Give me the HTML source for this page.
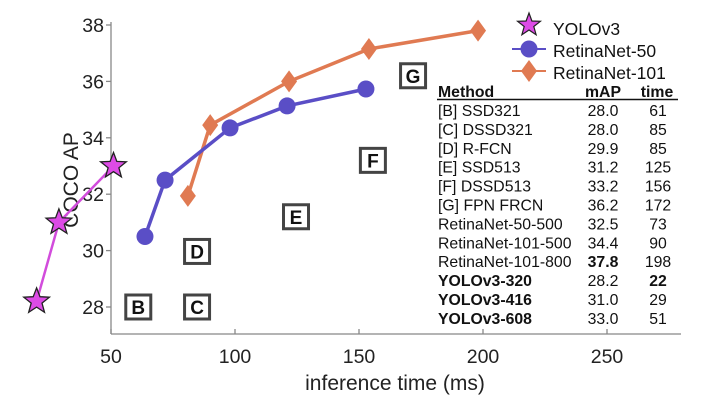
<!DOCTYPE html>
<html><head><meta charset="utf-8"><style>
body{margin:0;background:#fff;width:720px;height:405px;overflow:hidden}
svg{font-family:"Liberation Sans",sans-serif}
</style></head><body>
<svg id="c" width="720" height="405"></svg>
<script>
const xTicks=[50,100,150,200,250];
const yTicks=[28,30,32,34,36,38];
const yoloT=[20,29,51];
const yoloAP=[28.2,31.0,33.0];
const r50T=[63.7,71.8,98,121,152.8];
const r50AP=[30.5,32.5,34.35,35.13,35.73];
const r101T=[81,90,121.8,154,198];
const r101AP=[31.94,34.45,36.0,37.15,37.8];
const boxLabels=["B","C","D","E","F","G"];
const boxT=[61,84.7,84.7,124.6,155.6,171.8];
const boxAP=[28,28,29.97,31.2,33.2,36.2];
const tMethods=["[B] SSD321","[C] DSSD321","[D] R-FCN","[E] SSD513","[F] DSSD513","[G] FPN FRCN","RetinaNet-50-500","RetinaNet-101-500","RetinaNet-101-800","YOLOv3-320","YOLOv3-416","YOLOv3-608"];
const tMAP=["28.0","28.0","29.9","31.2","33.2","36.2","32.5","34.4","37.8","28.2","31.0","33.0"];
const tTime=["61","85","85","125","156","172","73","90","198","22","29","51"];
const boldMethod=[0,0,0,0,0,0,0,0,0,1,1,1];
const boldMAP=[0,0,0,0,0,0,0,0,1,0,0,0];
const boldTime=[0,0,0,0,0,0,0,0,0,1,0,0];

const X=v=>111+(v-50)*2.48;
const Y=v=>307-(v-28)*28.2;
const svg=document.getElementById('c');
const NS='http://www.w3.org/2000/svg';
function mk(t,a,p){const e=document.createElementNS(NS,t);for(const k in a)e.setAttribute(k,a[k]);(p||svg).appendChild(e);return e;}

let e;
e=mk('line',{x1:111,y1:22,x2:111,y2:334,stroke:'#888','stroke-width':1.3});


e=mk('line',{x1:111,y1:334,x2:681,y2:334,stroke:'#888','stroke-width':1.3});


xTicks.forEach(v=>{
 e=mk('line',{x1:X(v),y1:334,x2:X(v),y2:329,stroke:'#888','stroke-width':1.3});
 
 
 e=mk('text',{x:X(v),y:363,'text-anchor':'middle','font-size':19.5,fill:'#222'});e.textContent=v;
 
 
});
yTicks.forEach(v=>{
 e=mk('line',{x1:106,y1:Y(v),x2:111,y2:Y(v),stroke:'#888','stroke-width':1.3});
 
 
 e=mk('text',{x:104,y:Y(v)+7,'text-anchor':'end','font-size':19.5,fill:'#222'});e.textContent=v;
 
 
});
e=mk('text',{x:395,y:390,'text-anchor':'middle','font-size':21,fill:'#222'});e.textContent='inference time (ms)';


e=mk('text',{x:0,y:0,'text-anchor':'middle','font-size':21,fill:'#222',transform:'translate(78,180) rotate(-90)'});e.textContent='COCO AP';



boxLabels.forEach((l,i)=>{
 const cx=X(boxT[i]),cy=Y(boxAP[i]);
 e=mk('rect',{x:cx-12.5,y:cy-12,width:25,height:24,fill:'#fff',stroke:'#444','stroke-width':3});
 
 
 e=mk('text',{x:cx,y:cy+7,'text-anchor':'middle','font-size':19,'font-weight':'bold',fill:'#111'});e.textContent=l;
 
 
});

function starPath(cx,cy,R,r){let d='';for(let i=0;i<10;i++){const a=-Math.PI/2+i*Math.PI/5,rr=i%2?r:R;d+=(i?'L':'M')+(cx+rr*Math.cos(a)).toFixed(1)+','+(cy+rr*Math.sin(a)).toFixed(1);}return d+'Z';}
function series(ts,aps,color,w,name){
 e=mk('polyline',{points:ts.map((t,i)=>X(t)+','+Y(aps[i])).join(' '),fill:'none',stroke:color,'stroke-width':w});
 
 
}
series(r101T,r101AP,'#e07a52',3.5,'retinanet-101');
r101T.forEach((t,i)=>{const x=X(t),y=Y(r101AP[i]);
 e=mk('polygon',{points:`${x},${y-11} ${x+8},${y} ${x},${y+11} ${x-8},${y}`,fill:'#e07a52'});
 
 });
series(r50T,r50AP,'#5a4ec6',3.5,'retinanet-50');
r50T.forEach((t,i)=>{
 e=mk('circle',{cx:X(t),cy:Y(r50AP[i]),r:8.5,fill:'#5a4ec6'});
 
 });
series(yoloT,yoloAP,'#d24cdc',2.5,'yolov3');
yoloT.forEach((t,i)=>{
 e=mk('path',{d:starPath(X(t),Y(yoloAP[i]),13.5,5.7),fill:'#dd4be6',stroke:'#222','stroke-width':1.3});
 
 });

const lg=mk('g',{});


mk('path',{d:starPath(529,25,12,5),fill:'#dd4be6',stroke:'#222','stroke-width':1.2},lg);
mk('line',{x1:512,y1:49,x2:546,y2:49,stroke:'#5a4ec6','stroke-width':2},lg);
mk('circle',{cx:529,cy:49,r:8.5,fill:'#5a4ec6'},lg);
mk('line',{x1:512,y1:71,x2:546,y2:71,stroke:'#e07a52','stroke-width':2},lg);
mk('polygon',{points:'529,60 537,71 529,82 521,71',fill:'#e07a52'},lg);
[['YOLOv3',35],['RetinaNet-50',57],['RetinaNet-101',79]].forEach(([t,y])=>{
 e=mk('text',{x:553,y:y,'font-size':17.5,fill:'#111'},lg);e.textContent=t;
 
 
});

const tg=mk('g',{});


[['Method',438,'start'],['mAP',603,'middle'],['time',657,'middle']].forEach(([t,x,a])=>{
 e=mk('text',{x:x,y:97,'text-anchor':a,'font-size':15.8,'font-weight':'bold',fill:'#111'},tg);e.textContent=t;
 
 
});
mk('line',{x1:437,y1:99.5,x2:678,y2:99.5,stroke:'#111','stroke-width':1.5},tg);
tMethods.forEach((m,i)=>{
 const y=116+i*18.9;
 e=mk('text',{x:438,y:y,'font-size':15.8,'font-weight':boldMethod[i]?'bold':'normal',fill:'#111'},tg);e.textContent=m;
 
 
 e=mk('text',{x:603,y:y,'text-anchor':'middle','font-size':15.8,'font-weight':boldMAP[i]?'bold':'normal',fill:'#111'},tg);e.textContent=tMAP[i];
 
 
 e=mk('text',{x:658,y:y,'text-anchor':'middle','font-size':15.8,'font-weight':boldTime[i]?'bold':'normal',fill:'#111'},tg);e.textContent=tTime[i];
 
 
});
</script>
</body></html>
